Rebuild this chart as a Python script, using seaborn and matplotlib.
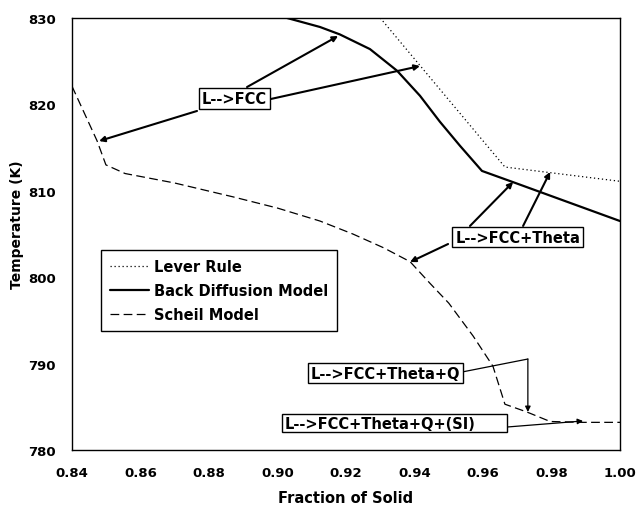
import matplotlib
matplotlib.use("Agg")
import matplotlib.pyplot as plt
import seaborn as sns
import pandas as pd
from matplotlib.patches import Rectangle

# ---------------- data ----------------
lever_x = [0.930, 0.9664, 0.9796, 1.000]
lever_y = [830.0, 812.75, 812.1, 811.1]

back_x = [0.9028, 0.9124, 0.9182, 0.9270, 0.9349, 0.9416, 0.9474, 0.9533, 0.9597, 0.9688, 1.000]
back_y = [830.0, 828.96, 828.1, 826.4, 823.9, 821.0, 818.0, 815.2, 812.3, 811.0, 806.5]

scheil_x = [0.840, 0.8473, 0.8499, 0.8555, 0.870, 0.887, 0.900, 0.9124, 0.922, 0.931, 0.9387,
            0.9445, 0.950, 0.9571, 0.9629, 0.9664, 0.9728, 0.9796, 0.989, 1.000]
scheil_y = [822.1, 815.8, 813.0, 812.0, 810.9, 809.3, 808.0, 806.5, 805.0, 803.4, 801.8,
            799.3, 797.0, 793.2, 789.7, 785.3, 784.4, 783.3, 783.2, 783.2]

series_names = ["Lever Rule", "Back Diffusion Model", "Scheil Model"]

x_ticks = [0.84, 0.86, 0.88, 0.90, 0.92, 0.94, 0.96, 0.98, 1.00]
x_tick_labels = ["0.84", "0.86", "0.88", "0.90", "0.92", "0.94", "0.96", "0.98", "1.00"]
y_ticks = [780, 790, 800, 810, 820, 830]
y_tick_labels = ["780", "790", "800", "810", "820", "830"]

# annotations: label, box centre, list of (tail, tip)
fcc_label = "L-->FCC"
fcc_center = (0.8874, 820.68)
fcc_arrows = [((0.8911, 822.01), (0.9177, 827.92)),
              ((0.8981, 820.63), (0.9416, 824.44)),
              ((0.8765, 819.24), (0.8479, 815.76))]

theta_label = "L-->FCC+Theta"
theta_center = (0.9701, 804.65)
theta_arrows = [((0.9562, 805.93), (0.9688, 811.02)),
                ((0.9717, 805.93), (0.9796, 812.18)),
                ((0.9498, 803.84), (0.9387, 801.76))]

q_label = "L-->FCC+Theta+Q"
q_center = (0.9315, 788.91)
q_path_x = [0.9539, 0.9731]
q_path_y = [789.03, 790.53]
q_tip = (0.9731, 784.40)

si_label = "L-->FCC+Theta+Q+(SI)"
si_box_x = [0.9013, 0.9670]
si_box_y = [782.08, 784.17]
si_text_pos = (0.9022, 783.12)
si_arrow = ((0.9670, 782.66), (0.9892, 783.36))

# ---------------- plotting ----------------
sns.set_style("white")
plt.rcParams["font.family"] = ["DejaVu Sans"]
plt.rcParams["font.weight"] = "bold"
for key in ["text.color", "axes.labelcolor", "xtick.color", "ytick.color",
            "xtick.labelcolor", "ytick.labelcolor"]:
    plt.rcParams[key] = "black"

fig = plt.figure(figsize=(6.38, 5.06), dpi=100)
ax = fig.add_axes([72 / 638, 1 - 451 / 506, 548 / 638, 432 / 506])

df_lever = pd.DataFrame({"x": lever_x, "y": lever_y})
df_back = pd.DataFrame({"x": back_x, "y": back_y})
df_scheil = pd.DataFrame({"x": scheil_x, "y": scheil_y})

sns.lineplot(data=df_lever, x="x", y="y", ax=ax, color="black", lw=0.9,
             label=series_names[0], estimator=None)
ax.lines[-1].set_dashes([1, 2.2])
sns.lineplot(data=df_back, x="x", y="y", ax=ax, color="black", lw=1.6,
             label=series_names[1], estimator=None)
sns.lineplot(data=df_scheil, x="x", y="y", ax=ax, color="black", lw=0.9,
             label=series_names[2], estimator=None)
ax.lines[-1].set_dashes([7, 3.5])

ax.set_xlim(0.84, 1.00)
ax.set_ylim(780, 830)
ax.set_xticks(x_ticks)
ax.set_xticklabels(x_tick_labels)
ax.set_yticks(y_ticks)
ax.set_yticklabels(y_tick_labels)
ax.tick_params(direction="out", length=4.5, width=1, color="black",
               labelcolor="black", labelsize=9.5, pad=7)
for lab in ax.get_xticklabels() + ax.get_yticklabels():
    lab.set_fontweight("bold")
for sp in ax.spines.values():
    sp.set_visible(True)
    sp.set_color("black")
    sp.set_linewidth(1)

ax.set_xlabel("Fraction of Solid", fontsize=10.5, fontweight="bold", labelpad=8,
              color="black")
ax.set_ylabel("Temperature (K)", fontsize=10, fontweight="bold", color="black")
ax.yaxis.set_label_coords(-0.087, 0.525)

leg = ax.legend(loc="upper left", bbox_to_anchor=(0.0529, 0.463), borderaxespad=0,
                frameon=True, fancybox=False, edgecolor="black", framealpha=1,
                prop={"weight": "bold", "size": 10.5}, handlelength=2.7,
                handletextpad=0.35, labelspacing=0.62, borderpad=0.6)
leg.get_frame().set_linewidth(1)
for t in leg.get_texts():
    t.set_color("black")

thick = dict(arrowstyle="-|>", color="black", lw=1.5, mutation_scale=8,
             shrinkA=0, shrinkB=0)
thin = dict(arrowstyle="-|>", color="black", lw=0.9, mutation_scale=8,
            shrinkA=0, shrinkB=0)

for tail, tip in fcc_arrows + theta_arrows:
    ax.annotate("", xy=tip, xytext=tail, arrowprops=thick, annotation_clip=False)

ax.plot(q_path_x, q_path_y, color="black", lw=0.9)
ax.annotate("", xy=q_tip, xytext=(q_path_x[-1], q_path_y[-1]), arrowprops=thin)
ax.annotate("", xy=si_arrow[1], xytext=si_arrow[0], arrowprops=thin)

box = dict(boxstyle="square,pad=0.2", fc="white", ec="black", lw=1)
for lab, c in [(fcc_label, fcc_center), (theta_label, theta_center), (q_label, q_center)]:
    ax.text(c[0], c[1], lab, ha="center", va="center", fontsize=10.5,
            fontweight="bold", bbox=box, zorder=5, color="black")

ax.add_patch(Rectangle((si_box_x[0], si_box_y[0]), si_box_x[1] - si_box_x[0],
                       si_box_y[1] - si_box_y[0], fc="white", ec="black", lw=1, zorder=4))
ax.text(si_text_pos[0], si_text_pos[1], si_label, ha="left", va="center",
        fontsize=10.5, fontweight="bold", zorder=5, color="black")

fig.savefig("out.png", dpi=100)
